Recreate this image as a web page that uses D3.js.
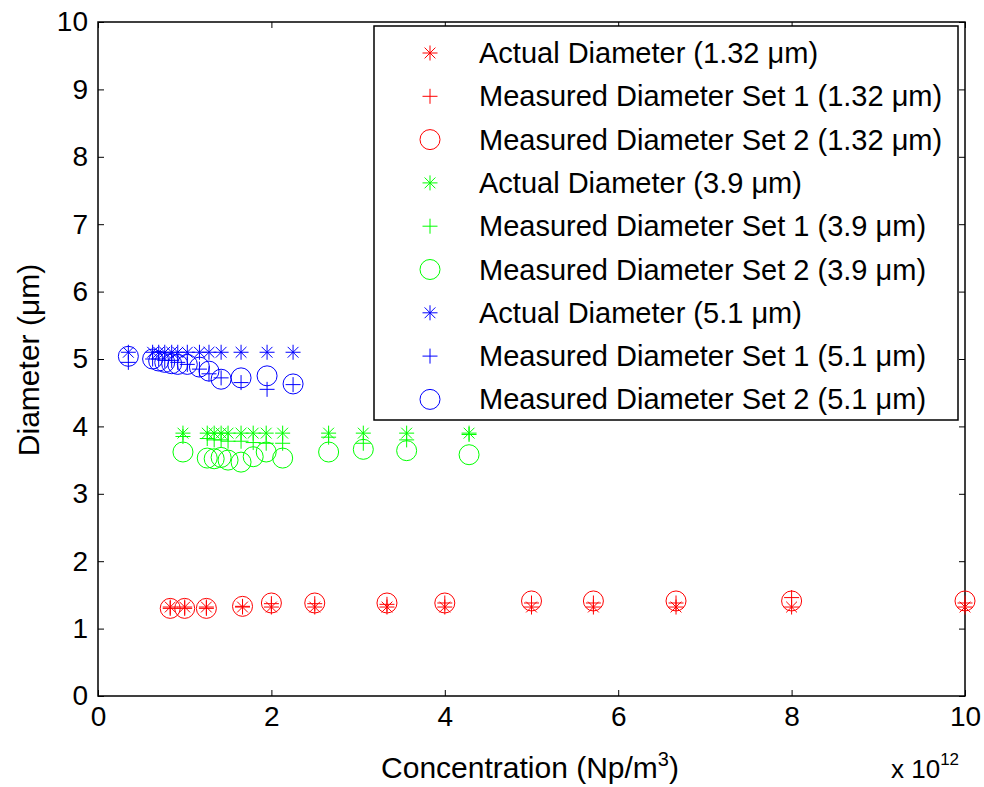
<!DOCTYPE html>
<html><head><meta charset="utf-8">
<script src="https://cdn.jsdelivr.net/npm/d3@7"></script>
<style>body{margin:0;background:#fff}svg{display:block}text{font-family:"Liberation Sans",Arial,sans-serif;fill:#000}</style>
</head><body><svg id="c" width="984" height="787"></svg>
<script>
// ---- data ----
const redConc = [0.833,1.0,1.25,1.667,2.0,2.5,3.333,4.0,5.0,5.714,6.667,8.0,10.0];
const redActual = [1.32,1.32,1.32,1.32,1.32,1.32,1.32,1.32,1.32,1.32,1.32,1.32,1.32];
const redSet1 = [1.30,1.30,1.30,1.33,1.37,1.37,1.36,1.38,1.38,1.38,1.38,1.46,1.38];
const redSet2 = [1.30,1.30,1.30,1.33,1.38,1.38,1.38,1.38,1.41,1.41,1.41,1.41,1.41];

const greenConc = [0.98,1.26,1.34,1.42,1.50,1.65,1.79,1.94,2.13,2.66,3.06,3.56,4.28];
const greenActual = [3.9,3.9,3.9,3.9,3.9,3.9,3.9,3.9,3.9,3.9,3.9,3.9,3.9];
const greenSet1 = [3.85,3.82,3.80,3.80,3.78,3.78,3.76,3.75,3.75,3.84,3.75,3.80,3.88];
const greenSet2 = [3.62,3.53,3.52,3.54,3.50,3.47,3.55,3.62,3.53,3.62,3.66,3.64,3.58];

const blueConc = [0.35,0.63,0.70,0.77,0.85,0.92,1.03,1.17,1.28,1.42,1.65,1.95,2.25];
const blueActual = [5.1,5.1,5.1,5.1,5.1,5.1,5.1,5.1,5.1,5.1,5.1,5.1,5.1];
const blueSet1 = [4.95,5.00,5.00,4.98,4.98,4.95,4.92,4.85,4.78,4.72,4.65,4.55,4.62];
const blueSet2 = [5.04,5.00,4.97,4.95,4.93,4.92,4.92,4.88,4.82,4.70,4.72,4.75,4.63];

const xTicks = [0,2,4,6,8,10];
const yTicks = [0,1,2,3,4,5,6,7,8,9,10];

const legendLabels = [
  "Actual Diameter (1.32 μm)","Measured Diameter Set 1 (1.32 μm)","Measured Diameter Set 2 (1.32 μm)",
  "Actual Diameter (3.9 μm)","Measured Diameter Set 1 (3.9 μm)","Measured Diameter Set 2 (3.9 μm)",
  "Actual Diameter (5.1 μm)","Measured Diameter Set 1 (5.1 μm)","Measured Diameter Set 2 (5.1 μm)"];

const series = [
  {x:redConc,y:redActual,color:"#ff0000",marker:"star"},
  {x:redConc,y:redSet1,color:"#ff0000",marker:"plus"},
  {x:redConc,y:redSet2,color:"#ff0000",marker:"circle"},
  {x:greenConc,y:greenActual,color:"#00ff00",marker:"star"},
  {x:greenConc,y:greenSet1,color:"#00ff00",marker:"plus"},
  {x:greenConc,y:greenSet2,color:"#00ff00",marker:"circle"},
  {x:blueConc,y:blueActual,color:"#0000ff",marker:"star"},
  {x:blueConc,y:blueSet1,color:"#0000ff",marker:"plus"},
  {x:blueConc,y:blueSet2,color:"#0000ff",marker:"circle"}
];

// ---- layout ----
const L=98,T=22,R=965,B=696;
const svg=d3.select("#c");
const x=d3.scaleLinear().domain([0,10]).range([L,R]);
const y=d3.scaleLinear().domain([0,10]).range([B,T]);
const FS=28, LFS=29, AFS=30;

function drawMarker(g,type,cx,cy,color){
  const s=7.5;
  if(type==="circle"){
    g.append("circle").attr("cx",cx).attr("cy",cy).attr("r",10).attr("fill","none").attr("stroke",color).attr("stroke-width",1);
  } else if(type==="plus"){
    g.append("path").attr("d",`M${cx-s},${cy}H${cx+s}M${cx},${cy-s}V${cy+s}`).attr("stroke",color).attr("stroke-width",1).attr("fill","none");
  } else {
    const d=s*0.72;
    g.append("path").attr("d",`M${cx-s},${cy}H${cx+s}M${cx},${cy-s}V${cy+s}M${cx-d},${cy-d}L${cx+d},${cy+d}M${cx-d},${cy+d}L${cx+d},${cy-d}`).attr("stroke",color).attr("stroke-width",1).attr("fill","none");
  }
}

// axes
const gx=svg.append("g").attr("transform",`translate(0,${B})`)
  .call(d3.axisBottom(x).tickValues(xTicks).tickSize(-6).tickPadding(10).tickFormat(d3.format("d")));
const gy=svg.append("g").attr("transform",`translate(${L},0)`)
  .call(d3.axisLeft(y).tickValues(yTicks).tickSize(-6).tickPadding(10).tickFormat(d3.format("d")));
const gx2=svg.append("g").attr("transform",`translate(0,${T})`)
  .call(d3.axisTop(x).tickValues(xTicks).tickSize(-6).tickFormat(""));
const gy2=svg.append("g").attr("transform",`translate(${R},0)`)
  .call(d3.axisRight(y).tickValues(yTicks).tickSize(-6).tickFormat(""));
[gx,gy,gx2,gy2].forEach(g=>{
  g.select(".domain").remove();
  g.selectAll("line").attr("stroke","#000").attr("stroke-width",1);
  g.selectAll("text").attr("font-size",FS).attr("font-family","Liberation Sans, Arial, sans-serif").attr("fill","#000");
});
svg.append("rect").attr("x",L).attr("y",T).attr("width",R-L).attr("height",B-T)
  .attr("fill","none").attr("stroke","#000").attr("stroke-width",1.5);

// data
const gd=svg.append("g");
series.forEach(s=>{
  s.x.forEach((xv,i)=>drawMarker(gd,s.marker,x(xv),y(s.y[i]),s.color));
});

// legend
const lg=svg.append("g");
lg.append("rect").attr("x",374).attr("y",26).attr("width",584).attr("height",394)
  .attr("fill","#fff").attr("stroke","#000").attr("stroke-width",1.5);
legendLabels.forEach((t,i)=>{
  const cy=53+i*43.3;
  drawMarker(lg,series[i].marker,430,cy,series[i].color);
  lg.append("text").attr("x",479).attr("y",cy+10).attr("font-size",LFS).text(t);
});

// labels
svg.append("text").attr("x",530).attr("y",778).attr("text-anchor","middle").attr("font-size",AFS)
  .html('Concentration (Np/m<tspan dy="-12" font-size="20">3</tspan><tspan dy="12">)</tspan>');
svg.append("text").attr("x",891).attr("y",778).attr("font-size",FS-2)
  .html('x 10<tspan dy="-13" font-size="17">12</tspan>');
svg.append("text").attr("transform","translate(39,360) rotate(-90)").attr("text-anchor","middle").attr("font-size",AFS)
  .text("Diameter (μm)");
</script></body></html>
